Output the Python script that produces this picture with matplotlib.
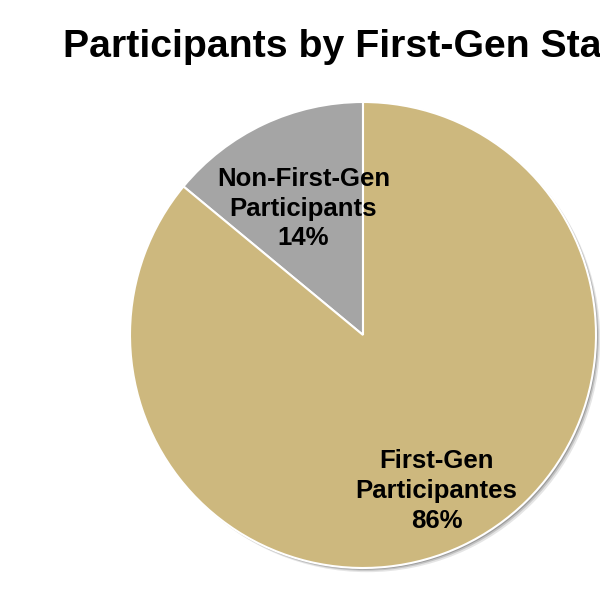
import numpy as np
import matplotlib.pyplot as plt
import matplotlib.patches as mpatches

# ── DATA ───────────────────────────────────────────────────
labels = ["Non-First-Gen\nParticipants", "First-Gen\nParticipantes"]
shares = [14, 86]
colors = ["#A5A5A5", "#CDB87E"]
label_radius = [0.6, 0.74]

title = "Participants by First-Gen Status"

plt.rcParams["font.family"] = ["Liberation Sans", "DejaVu Sans"]

fig = plt.figure(figsize=(6, 6), dpi=100)
fig.patch.set_facecolor("white")

# title runs past the right edge, like the original slide crop
fig.text(63 / 600, 1 - 57 / 600, title, ha="left", va="baseline",
         fontsize=28.3, fontweight="bold", color="black")

ax = fig.add_axes([130 / 600, 32 / 600, 466 / 600, 466 / 600])

wedges, _ = ax.pie(shares, colors=colors, startangle=90, counterclock=True,
                   radius=1.0, wedgeprops=dict(edgecolor="white", linewidth=1.5))
ax.set_xlim(-1, 1)
ax.set_ylim(-1, 1)
ax.set_aspect("equal")
ax.axis("off")

# soft shadow behind the pie
for off, a in [(0.018, 0.10), (0.012, 0.15), (0.007, 0.2)]:
    ax.add_patch(mpatches.Circle((off, -off), 1.0, color="#000000",
                                 alpha=a, lw=0, zorder=0, clip_on=False))
for w in wedges:
    w.set_zorder(1)
    w.set_clip_on(False)

for w, lab, val, r in zip(wedges, labels, shares, label_radius):
    mid = np.deg2rad((w.theta1 + w.theta2) / 2)
    ax.text(r * np.cos(mid), r * np.sin(mid), f"{lab}\n{val}%",
            ha="center", va="center", fontsize=18.5, fontweight="bold",
            linespacing=1.3, zorder=3)

fig.savefig("out.png", dpi=100)
